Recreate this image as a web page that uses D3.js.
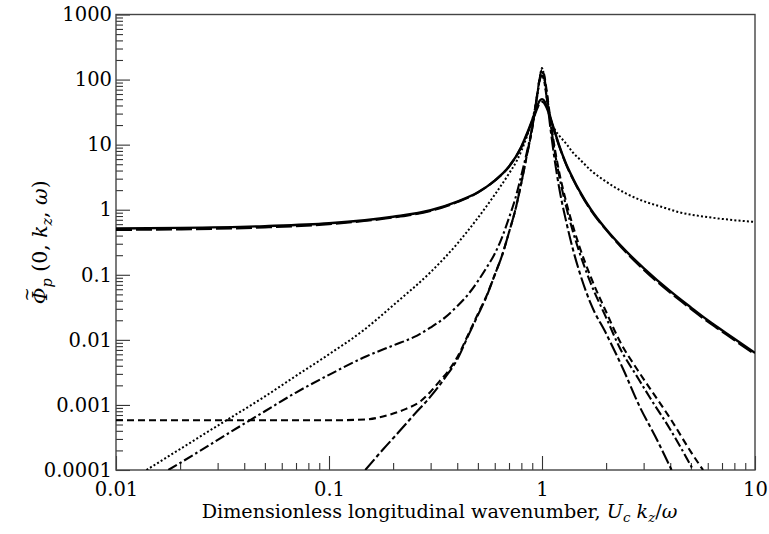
<!DOCTYPE html>
<html>
<head>
<meta charset="utf-8">
<script src="https://cdn.jsdelivr.net/npm/d3@7"></script>
<style>
  html, body { margin: 0; padding: 0; background: #fff; }
  svg { display: block; }
  text { font-family: "DejaVu Serif", serif; fill: #000; }
</style>
</head>
<body>
<div id="chart"></div>
<script>
// ---- data ----
const xTickLabels = ["0.01", "0.1", "1", "10"];
const yTickLabels = ["0.0001", "0.001", "0.01", "0.1", "1", "10", "100", "1000"];

// solid curve
const seriesSolid = [
  [0.01,0.515],[0.02,0.525],[0.05,0.56],[0.1,0.62],[0.2,0.78],[0.3,0.98],[0.4,1.33],
  [0.5,1.85],[0.6,2.8],[0.7,4.6],[0.8,9.3],[0.85,14.8],[0.9,24],[0.93,32],[0.95,39],
  [0.97,46],[0.99,49.5],[1.0,50],[1.01,49.5],[1.03,46],[1.05,40],[1.08,31],[1.1,25],
  [1.15,15.5],[1.2,10],[1.3,5],[1.4,3.0],[1.5,1.95],[1.7,1.0],[2,0.5],[2.5,0.225],
  [3,0.127],[4,0.056],[5,0.0315],[6,0.02],[7,0.0141],[8,0.0104],[10,0.0063]
];
// long-dash curve (nearly on top of the solid one)
const seriesLongDash = [
  [0.01,0.49],[0.02,0.5],[0.05,0.535],[0.1,0.6],[0.2,0.76],[0.3,0.96],[0.4,1.31],
  [0.5,1.83],[0.6,2.8],[0.7,4.6],[0.8,9.2],[0.85,14.3],[0.9,23],[0.93,30],[0.95,36],
  [0.97,42],[0.99,45],[1.0,45.5],[1.01,45],[1.03,42],[1.05,37],[1.08,29],[1.1,24],
  [1.15,15],[1.2,9.8],[1.3,4.9],[1.4,2.9],[1.5,1.9],[1.7,0.97],[2,0.49],[2.5,0.215],
  [3,0.12],[4,0.053],[5,0.03],[6,0.019],[7,0.0134],[8,0.0099],[10,0.006]
];
// dotted curve
const seriesDotted = [
  [0.0139,1e-4],[0.02,2.1e-4],[0.03,4.8e-4],[0.05,1.35e-3],[0.07,2.8e-3],[0.1,6e-3],
  [0.145,0.014],[0.2,0.034],[0.3,0.11],[0.4,0.3],[0.5,0.75],[0.6,1.7],[0.7,3.6],
  [0.76,5.6],[0.8,8],[0.85,13.5],[0.9,24],[0.93,38],[0.95,55],[0.97,90],[0.99,138],
  [1.0,150],[1.01,140],[1.03,95],[1.05,55],[1.08,30],[1.1,24],[1.15,17],[1.2,14],
  [1.31,10],[1.4,7.5],[1.5,6.0],[1.7,4.0],[2,2.7],[2.5,1.75],[3,1.35],[3.6,1.12],
  [4.5,0.9],[6,0.77],[8,0.69],[10,0.65]
];
// dash-dot curve with the shoulder
const seriesDashDot = [
  [0.0176,1e-4],[0.025,2e-4],[0.035,3.95e-4],[0.05,8e-4],[0.07,1.55e-3],[0.1,2.9e-3],
  [0.15,5.6e-3],[0.2,8.2e-3],[0.25,0.011],[0.3,0.0155],[0.35,0.022],[0.4,0.033],
  [0.45,0.05],[0.5,0.08],[0.55,0.13],[0.6,0.21],[0.65,0.38],[0.7,0.75],[0.75,1.5],
  [0.8,3.4],[0.85,7.8],[0.9,19],[0.93,38],[0.95,60],[0.97,95],[0.99,125],[1.0,130],
  [1.02,115],[1.05,65],[1.1,20],[1.15,7.5],[1.2,3.5],[1.3,1.1],[1.4,0.45],[1.5,0.22],
  [1.7,0.072],[2.0,0.022],[2.32,0.0075],[2.8,0.0027],[3.21,0.0013],[4.0,0.00042],[5.13,1e-4]
];
// short-dash curve (flat floor at low wavenumber)
const seriesDashed = [
  [0.01,5.8e-4],[0.05,5.8e-4],[0.1,5.8e-4],[0.15,6.0e-4],[0.19,7.0e-4],[0.23,8.7e-4],
  [0.27,1.15e-3],[0.3,1.6e-3],[0.33,2.3e-3],[0.36,3.2e-3],[0.4,5.4e-3],[0.45,0.012],
  [0.5,0.025],[0.55,0.048],[0.6,0.1],[0.65,0.2],[0.7,0.45],[0.75,1.0],[0.8,2.6],
  [0.85,7],[0.9,18],[0.93,37],[0.95,60],[0.97,95],[0.99,132],[1.0,140],[1.02,125],
  [1.05,70],[1.1,22],[1.15,8.5],[1.2,4],[1.3,1.3],[1.4,0.55],[1.5,0.27],[1.7,0.09],
  [2.0,0.027],[2.32,0.0095],[2.8,0.0035],[3.21,0.0018],[4.0,0.00062],[5.0,0.00019],[5.7,1e-4]
];
// long-dash short-dash curve (steep on both sides)
const seriesLongDashDot = [
  [0.148,1e-4],[0.18,2.1e-4],[0.215,4e-4],[0.25,7e-4],[0.3,1.35e-3],[0.35,2.6e-3],
  [0.4,5e-3],[0.45,0.0115],[0.5,0.024],[0.55,0.047],[0.6,0.1],[0.65,0.2],[0.7,0.45],
  [0.75,1.0],[0.8,2.6],[0.85,7],[0.9,18],[0.93,36],[0.95,58],[0.97,90],[0.99,112],
  [1.0,115],[1.02,100],[1.05,55],[1.1,16],[1.15,5.5],[1.2,2.3],[1.3,0.65],[1.4,0.24],
  [1.5,0.11],[1.7,0.035],[2.0,0.0125],[2.4,0.0036],[2.88,0.00093],[3.4,0.00033],[4.06,1e-4]
];

// ---- layout ----
const W = 769, H = 534;
const plot = { left: 116, right: 755, top: 14.5, bottom: 470 };

const svg = d3.select("#chart").append("svg")
  .attr("width", W).attr("height", H).attr("viewBox", `0 0 ${W} ${H}`);
svg.append("rect").attr("width", W).attr("height", H).attr("fill", "#fff");

const x = d3.scaleLog().domain([0.01, 10]).range([plot.left, plot.right]);
const y = d3.scaleLog().domain([1e-4, 1000]).range([plot.bottom, plot.top]);

const xMajor = xTickLabels.map(Number);
const yMajor = yTickLabels.map(Number);
const xMinor = [];
for (let i = 0; i < xMajor.length - 1; i++) for (let m = 2; m <= 9; m++) xMinor.push(xMajor[i] * m);
const yMinor = [];
for (let i = 0; i < yMajor.length - 1; i++) for (let m = 2; m <= 9; m++) yMinor.push(yMajor[i] * m);

// minor ticks
svg.append("g").attr("transform", `translate(0,${plot.bottom})`)
  .call(d3.axisBottom(x).tickValues(xMinor).tickSize(-7).tickFormat(""))
  .call(g => g.select(".domain").remove())
  .call(g => g.selectAll("line").attr("stroke", "#333").attr("stroke-width", 1.1));
svg.append("g").attr("transform", `translate(${plot.left},0)`)
  .call(d3.axisLeft(y).tickValues(yMinor).tickSize(-7).tickFormat(""))
  .call(g => g.select(".domain").remove())
  .call(g => g.selectAll("line").attr("stroke", "#333").attr("stroke-width", 1.1));

// major ticks + labels
svg.append("g").attr("transform", `translate(0,${plot.bottom})`)
  .call(d3.axisBottom(x).tickValues(xMajor).tickSize(-14).tickPadding(12)
    .tickFormat((d, i) => xTickLabels[i]))
  .call(g => g.select(".domain").remove())
  .call(g => g.selectAll("line").attr("stroke", "#333").attr("stroke-width", 1.1))
  .call(g => g.selectAll("text").attr("font-family", "DejaVu Serif").attr("font-size", 19.5).attr("fill", "#000"));
svg.append("g").attr("transform", `translate(${plot.left},0)`)
  .call(d3.axisLeft(y).tickValues(yMajor).tickSize(-14).tickPadding(4)
    .tickFormat((d, i) => yTickLabels[i]))
  .call(g => g.select(".domain").remove())
  .call(g => g.selectAll("line").attr("stroke", "#333").attr("stroke-width", 1.1))
  .call(g => g.selectAll("text").attr("font-family", "DejaVu Serif").attr("font-size", 19.5).attr("fill", "#000"));

// frame
svg.append("rect")
  .attr("x", plot.left).attr("y", plot.top)
  .attr("width", plot.right - plot.left).attr("height", plot.bottom - plot.top)
  .attr("fill", "none").attr("stroke", "#444").attr("stroke-width", 1.4);

// clip
svg.append("clipPath").attr("id", "clip").append("rect")
  .attr("x", plot.left).attr("y", plot.top)
  .attr("width", plot.right - plot.left).attr("height", plot.bottom - plot.top);

const line = d3.line().x(d => x(d[0])).y(d => y(d[1])).curve(d3.curveMonotoneX);

const series = [
  { data: seriesSolid, dash: null, w: 2.4 },
  { data: seriesLongDash, dash: "16,4", w: 2.2 },
  { data: seriesDotted, dash: "2,2.2", w: 2.0 },
  { data: seriesDashDot, dash: "10,3,2.5,3", w: 2.1 },
  { data: seriesDashed, dash: "7,4", w: 2.1 },
  { data: seriesLongDashDot, dash: "14,3,4,3", w: 2.1 }
];
const gLines = svg.append("g").attr("clip-path", "url(#clip)");
series.forEach(s => {
  gLines.append("path").datum(s.data)
    .attr("d", line)
    .attr("fill", "none")
    .attr("stroke", "#000")
    .attr("stroke-width", s.w)
    .attr("stroke-dasharray", s.dash)
    .attr("stroke-linejoin", "round");
});

// fit a text element to a target length by adjusting its font size (subscripts scale too)
function fitText(sel, target, base) {
  const len = sel.node().getComputedTextLength();
  const k = target / len;
  sel.attr("font-size", base * k);
  sel.selectAll("tspan[data-sub]").attr("font-size", base * k * 0.7)
    .each(function() {
      const t = d3.select(this);
      t.attr("dy", +t.attr("data-sub") * k);
    });
  sel.selectAll("tspan[data-up]").each(function() {
    const t = d3.select(this);
    t.attr("dy", +t.attr("data-up") * k);
  });
  return k;
}

// x axis title
const xt = svg.append("text")
  .attr("x", (plot.left + plot.right) / 2 + 4).attr("y", 518)
  .attr("text-anchor", "middle").attr("font-size", 18);
xt.append("tspan").text("Dimensionless longitudinal wavenumber, ");
xt.append("tspan").attr("font-style", "italic").text("U");
xt.append("tspan").attr("font-style", "italic").attr("font-size", 12.6).attr("data-sub", 4).attr("dy", 4).text("c");
xt.append("tspan").attr("data-up", -4).attr("dy", -4).text(" ");
xt.append("tspan").attr("font-style", "italic").text("k");
xt.append("tspan").attr("font-style", "italic").attr("font-size", 12.6).attr("data-sub", 4).attr("dy", 4).text("z");
xt.append("tspan").attr("data-up", -4).attr("dy", -4).text("/");
xt.append("tspan").attr("font-style", "italic").text("ω");
fitText(xt, 476, 18);

// y axis title
const cy = (plot.top + plot.bottom) / 2;
const ytg = svg.append("g").attr("transform", `translate(47,${cy}) rotate(-90)`);
const yt = ytg.append("text").attr("x", 0).attr("y", 0)
  .attr("text-anchor", "middle").attr("font-size", 18);
yt.append("tspan").attr("font-style", "italic").text("Φ");
yt.append("tspan").attr("font-style", "italic").attr("font-size", 12.6).attr("data-sub", 4).attr("dy", 4).text("p");
yt.append("tspan").attr("data-up", -4).attr("dy", -4).text(" (0, ");
yt.append("tspan").attr("font-style", "italic").text("k");
yt.append("tspan").attr("font-style", "italic").attr("font-size", 12.6).attr("data-sub", 4).attr("dy", 4).text("z");
yt.append("tspan").attr("data-up", -4).attr("dy", -4).text(", ");
yt.append("tspan").attr("font-style", "italic").text("ω");
yt.append("tspan").text(")");
const ky = fitText(yt, 124, 18);

// tilde over Φ
const node = yt.node();
const p0 = node.getStartPositionOfChar(0);
const p1 = node.getEndPositionOfChar(0);
ytg.append("text")
  .attr("x", (p0.x + p1.x) / 2 + 1.5).attr("y", -13 * ky)
  .attr("text-anchor", "middle").attr("font-size", 15 * ky)
  .text("~");
</script>
</body>
</html>
